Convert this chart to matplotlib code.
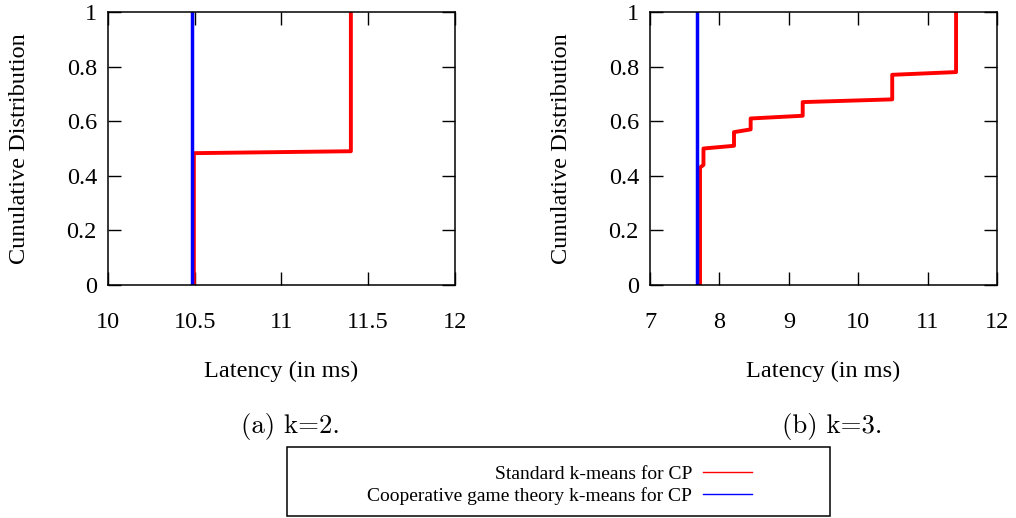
import matplotlib
matplotlib.use("Agg")
import matplotlib.pyplot as plt
from matplotlib.patches import Rectangle

# k=2 curves (latency in ms, cumulative fraction)
k2_std_x = [10.495, 10.495, 11.40, 11.40]
k2_std_y = [0.0, 0.483, 0.49, 1.0]
k2_coop_x = [10.487, 10.487]
k2_coop_y = [0.0, 1.0]

# k=3 curves
k3_std_x = [7.72, 7.72, 7.77, 7.77, 8.21, 8.21, 8.45, 8.45, 9.20, 9.20, 10.49, 10.49, 11.41, 11.41]
k3_std_y = [0.0, 0.43, 0.44, 0.50, 0.51, 0.56, 0.57, 0.61, 0.62, 0.67, 0.68, 0.77, 0.78, 1.0]
k3_coop_x = [7.67, 7.67]
k3_coop_y = [0.0, 1.0]

k2_xticks = [10, 10.5, 11, 11.5, 12]
k3_xticks = [7, 8, 9, 10, 11, 12]
yticks = [0, 0.2, 0.4, 0.6, 0.8, 1]
ytick_labels = ["0", "0.2", "0.4", "0.6", "0.8", "1"]

std_label = "Standard k-means for CP"
coop_label = "Cooperative game theory k-means for CP"

plt.rcParams["font.family"] = ["Liberation Serif", "DejaVu Serif"]

fig = plt.figure(figsize=(10.16, 5.18), dpi=100)
ax1 = fig.add_axes([0.1063, 0.4498, 0.3415, 0.527])
ax2 = fig.add_axes([0.6398, 0.4498, 0.3415, 0.527])


def style_axis(ax, xticks, xlim):
    ax.set_xlim(*xlim)
    ax.set_ylim(0, 1)
    ax.set_xticks(xticks)
    ax.set_xticklabels([("%g" % v) for v in xticks])
    ax.set_yticks(yticks)
    ax.set_yticklabels(ytick_labels)
    ax.tick_params(direction="in", length=9.5, width=1, top=True, right=True,
                   labelsize=17.5)
    ax.tick_params(axis="x", pad=19.5)
    ax.tick_params(axis="y", pad=8)
    for s in ax.spines.values():
        s.set_linewidth(1.1)
    ax.set_xlabel("Latency (in ms)", fontsize=17.5)
    ax.xaxis.set_label_coords(0.5, -0.276)
    # the original figure spells it "Cunulative"
    ax.set_ylabel("Cunulative Distribution", fontsize=17.5)
    ax.yaxis.set_label_coords(-0.225, 0.5)


ax1.plot(k2_std_x, k2_std_y, color="red", lw=2.8)
ax1.plot(k2_coop_x, k2_coop_y, color="blue", lw=2.5)
style_axis(ax1, k2_xticks, (10, 12))

ax2.plot(k3_std_x, k3_std_y, color="red", lw=2.8)
ax2.plot(k3_coop_x, k3_coop_y, color="blue", lw=2.5)
style_axis(ax2, k3_xticks, (7, 12))

fig.text(0.2854, 0.177, "(a) k=2.", fontsize=19.3, family="cmr10", ha="center", va="center")
fig.text(0.8189, 0.177, "(b) k=3.", fontsize=19.3, family="cmr10", ha="center", va="center")

# legend frame
fig.patches.append(Rectangle((0.2825, 0.003), 0.5345, 0.134, transform=fig.transFigure,
                             fill=False, edgecolor="black", lw=1.1))
handles = [plt.Line2D([], [], color="red", lw=1),
           plt.Line2D([], [], color="blue", lw=1)]
leg = fig.legend(handles, [std_label, coop_label], loc="center",
                 bbox_to_anchor=(0.5507, 0.063), frameon=False, markerfirst=False,
                 fontsize=14, handlelength=2.5, handletextpad=0.57, labelspacing=0.22,
                 borderpad=0, borderaxespad=0)

fig.savefig("out.png", dpi=100)
